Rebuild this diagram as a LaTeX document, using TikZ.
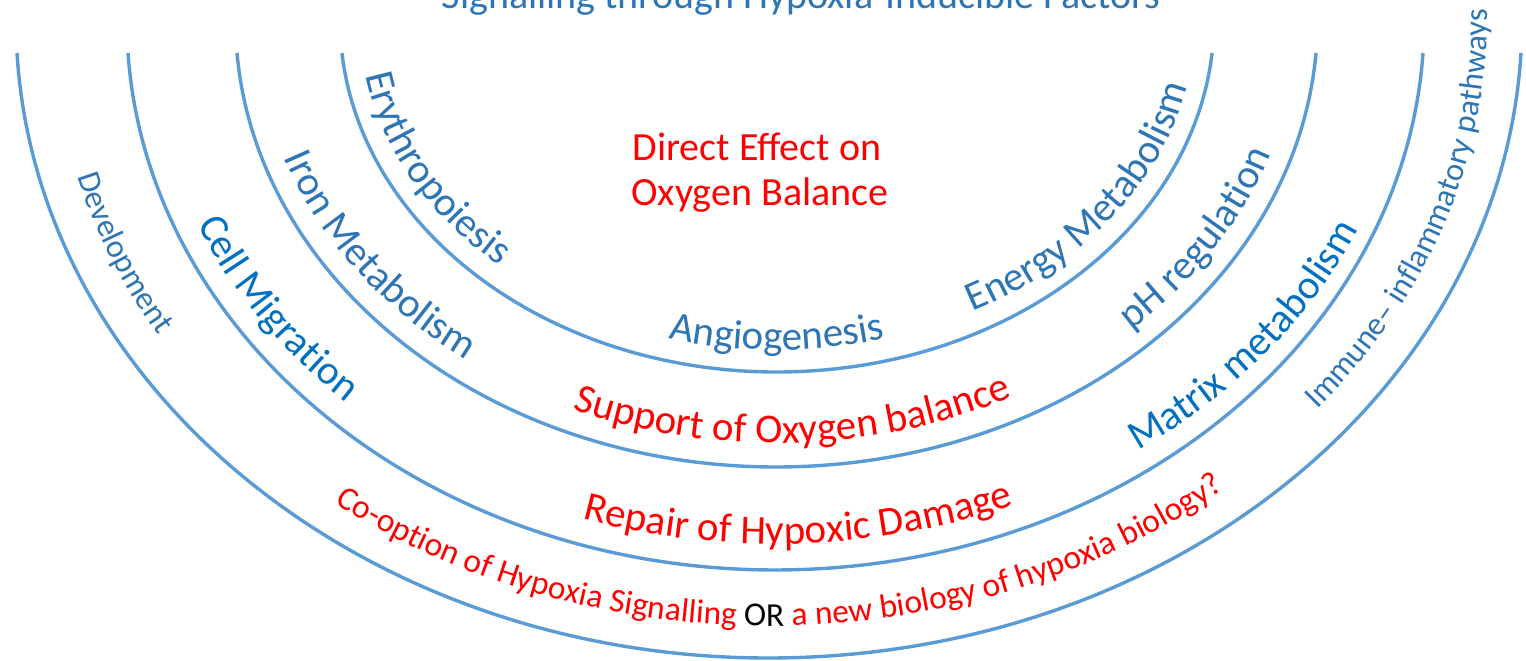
\documentclass[tikz,border=0pt]{standalone}
\usepackage{fontspec}
\setmainfont{Carlito}
\usetikzlibrary{decorations.text}
\definecolor{arcblue}{HTML}{5B9BD5}
\definecolor{tblue}{HTML}{2E75B6}
\definecolor{dblue}{HTML}{0070C0}
\definecolor{tred}{HTML}{FF0000}
\newcommand\fbig{\fontsize{41}{41}\selectfont}
\newcommand\fsmall{\fontsize{32.5}{32.5}\selectfont}
\newcommand\fco{\fontsize{33.5}{33.5}\selectfont}
% #1 cx, #2 cy (px, downwards), #3 a, #4 b, #5 middle angle, #6 half span, #7 format, #8 text
\newcommand\ringtext[8]{%
  \path[decorate,decoration={text along path,text align=center,text={|#7|#8}}]
    ([shift={({#5-#6}:#3pt and #4pt)}]#1,-#2)
    arc[start angle={#5-#6}, end angle={#5+#6}, x radius=#3pt, y radius=#4pt];}
\begin{document}
\begin{tikzpicture}[x=1pt,y=1pt]
\tikzset{arcline/.style={draw=arcblue,line width=3.4pt}}
\useasboundingbox (0,0) rectangle (1526,-661);
\fill[white] (0,0) rectangle (1526,-661);
% title (cut at the top)
\node[anchor=base,text=tblue,font=\fontsize{40}{40}\selectfont,inner sep=0pt] (title) at (801,-9) {Signalling through Hypoxia-Inducible Factors};
% arcs
\draw[arcline] ([shift={(185.38:437pt and 352pt)}]777,-20) arc[start angle=185.38, end angle=354.62, x radius=437pt, y radius=352pt];
\draw[arcline] ([shift={(184.23:541pt and 447pt)}]776.5,-20) arc[start angle=184.23, end angle=355.77, x radius=541pt, y radius=447pt];
\draw[arcline] ([shift={(183.44:648.7pt and 550pt)}]775.5,-20) arc[start angle=183.44, end angle=356.56, x radius=648.7pt, y radius=550pt];
\draw[arcline] ([shift={(182.96:753pt and 638pt)}]769,-20) arc[start angle=182.96, end angle=357.04, x radius=753pt, y radius=638pt];
% centre
\node[anchor=base,text=tred,font=\fontsize{40}{40}\selectfont,inner sep=0pt] (direct1) at (757,-160) {Direct Effect on};
\node[anchor=base,text=tred,font=\fontsize{40}{40}\selectfont,inner sep=0pt] (direct2) at (760,-205) {Oxygen Balance};
% ring 1
\ringtext{777}{20}{417}{330}{208.6}{24}{\fbig\color{tblue}}{Erythropoiesis}
\ringtext{777}{20}{417}{330}{270}{20}{\fbig\color{tblue}}{Angiogenesis}
\ringtext{777}{20}{419}{330}{323.5}{29}{\fbig\color{tblue}}{Energy Metabolism}
% ring 2
\ringtext{776.5}{20}{521}{423}{216}{21}{\fbig\color{tblue}}{Iron Metabolism}
\ringtext{776.5}{20}{521}{423}{327.4}{18}{\fbig\color{tblue}}{pH regulation}
\ringtext{776.5}{20}{521}{423}{272}{32}{\fbig\color{tred}}{Support of Oxygen balance}
% ring 3
\ringtext{775.5}{20}{628}{524}{214.8}{15}{\fbig\color{dblue}}{Cell Migration}
\ringtext{775.5}{20}{636}{524}{320.8}{19}{\fbig\color{dblue}}{Matrix metabolism}
\ringtext{775.5}{20}{632}{524}{272.2}{26}{\fbig\color{tred}}{Repair of Hypoxic Damage}
% ring 4
\ringtext{769}{20}{716}{603}{203.2}{11}{\fsmall\color{tblue}}{Development}
\ringtext{769}{20}{718}{603}{340.6}{25}{\fsmall\color{tblue}}{Immune– inflammatory pathways}
\ringtext{769}{20}{720}{606}{271.1}{46}{\fco\color{tred}}{Co-option of Hypoxia Signalling |\fco\color{black}|OR |\fco\color{tred}|a new biology of hypoxia biology?}
\end{tikzpicture}
\end{document}
